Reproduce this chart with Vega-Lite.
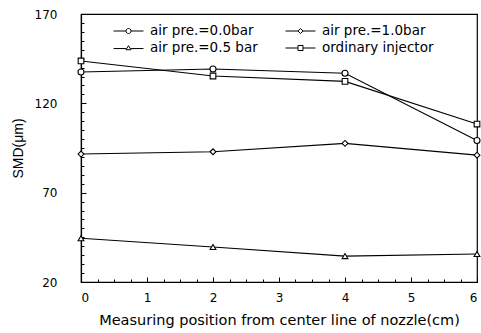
{
  "$schema": "https://vega.github.io/schema/vega-lite/v6.json",
  "width": 396,
  "height": 268,
  "autosize": "none",
  "padding": {"left": 81, "top": 14, "right": 4, "bottom": 51},
  "background": "white",
  "config": {
    "view": {"stroke": "black", "strokeWidth": 1.2},
    "font": "DejaVu Sans",
    "axis": {"labelFont": "DejaVu Sans", "titleFont": "DejaVu Sans", "labelColor": "black", "titleColor": "black", "domainColor": "black", "tickColor": "black", "grid": false}
  },
  "data": {
    "values": [
      {"x": 0, "series": "air pre.=0.0bar", "smd": 137.5},
      {"x": 2, "series": "air pre.=0.0bar", "smd": 139.2},
      {"x": 4, "series": "air pre.=0.0bar", "smd": 136.8},
      {"x": 6, "series": "air pre.=0.0bar", "smd": 99.2},
      {"x": 0, "series": "air pre.=1.0bar", "smd": 91.6},
      {"x": 2, "series": "air pre.=1.0bar", "smd": 92.9},
      {"x": 4, "series": "air pre.=1.0bar", "smd": 97.6},
      {"x": 6, "series": "air pre.=1.0bar", "smd": 91.0},
      {"x": 0, "series": "air pre.=0.5 bar", "smd": 44.5},
      {"x": 2, "series": "air pre.=0.5 bar", "smd": 39.6},
      {"x": 4, "series": "air pre.=0.5 bar", "smd": 34.5},
      {"x": 6, "series": "air pre.=0.5 bar", "smd": 35.7},
      {"x": 0, "series": "ordinary injector", "smd": 143.7},
      {"x": 2, "series": "ordinary injector", "smd": 135.3},
      {"x": 4, "series": "ordinary injector", "smd": 132.3},
      {"x": 6, "series": "ordinary injector", "smd": 108.4}
    ]
  },
  "layer": [
    {
      "mark": {"type": "line", "color": "black", "strokeWidth": 1.1},
      "encoding": {
        "x": {"field": "x", "type": "quantitative", "scale": {"domain": [0, 6], "nice": false},
          "axis": {"orient": "bottom", "title": "Measuring position from center line of nozzle(cm)", "values": [0,1,2,3,4,5,6], "format": "d", "tickSize": -5, "labelPadding": 15, "labelFontSize": 12, "titleFontSize": 14.5, "titleFontWeight": "normal", "titlePadding": 10, "domainWidth": 1.2}},
        "y": {"field": "smd", "type": "quantitative", "scale": {"domain": [20, 170], "nice": false, "zero": false},
          "axis": {"orient": "left", "title": "SMD(μm)", "titleFont": "Liberation Sans", "values": [20, 70, 120, 170], "tickSize": -5, "labelPadding": 29, "labelFontSize": 12, "titleFontSize": 14, "titleFontWeight": "normal", "titlePadding": 9, "domainWidth": 1.2}},
        "detail": {"field": "series", "type": "nominal"}
      }
    },
    {
      "mark": {"type": "point", "filled": false, "color": "black", "fill": "white", "fillOpacity": 1, "strokeWidth": 1.1, "opacity": 1},
      "encoding": {
        "x": {"field": "x", "type": "quantitative",
          "axis": {"orient": "bottom", "title": null, "labels": false, "domain": false, "values": [0.25,0.5,0.75,1.25,1.5,1.75,2.25,2.5,2.75,3.25,3.5,3.75,4.25,4.5,4.75,5.25,5.5,5.75], "tickSize": -3}},
        "y": {"field": "smd", "type": "quantitative",
          "axis": {"orient": "left", "title": null, "labels": false, "domain": false, "values": [25,30,35,40,45,50,55,60,65,75,80,85,90,95,100,105,110,115,125,130,135,140,145,150,155,160,165], "tickSize": -3}},
        "shape": {"field": "series", "type": "nominal",
          "scale": {"domain": ["air pre.=0.0bar", "air pre.=1.0bar", "air pre.=0.5 bar", "ordinary injector"], "range": ["circle", "diamond", "triangle-up", "square"]},
          "legend": null},
        "size": {"field": "series", "type": "nominal",
          "scale": {"domain": ["air pre.=0.0bar", "air pre.=1.0bar", "air pre.=0.5 bar", "ordinary injector"], "range": [36, 32, 36, 50]},
          "legend": null}
      }
    },
    {
      "mark": {"type": "point", "filled": false, "color": "black", "opacity": 0},
      "encoding": {
        "x": {"field": "x", "type": "quantitative", "axis": null},
        "y": {"field": "smd", "type": "quantitative", "axis": null},
        "shape": {"field": "series", "type": "nominal",
          "scale": {"domain": ["air pre.=0.0bar", "air pre.=1.0bar", "air pre.=0.5 bar", "ordinary injector"],
            "range": [
              "M-2.14,0L-0.36,0M0.36,0L2.14,0M-0.36,0A0.36,0.36 0 1,0 0.36,0A0.36,0.36 0 1,0 -0.36,0Z",
              "M-2.14,0L-0.36,0M0.36,0L2.14,0M-0.36,0L0,-0.36L0.36,0L0,0.36Z",
              "M-2.14,0.08L-0.36,0.08M0.36,0.08L2.14,0.08M-0.36,0.25L0,-0.33L0.36,0.25Z",
              "M-2.14,0L-0.36,0M0.36,0L2.14,0M-0.36,-0.36L0.36,-0.36L0.36,0.36L-0.36,0.36Z"
            ]},
          "legend": {
            "title": null, "orient": "none", "legendX": 40, "legendY": 9.5, "columns": 2, "direction": "horizontal",
            "columnPadding": 25, "rowPadding": 3, "padding": 0,
            "labelFontSize": 13.5, "labelFont": "DejaVu Sans", "labelColor": "black", "labelOffset": 14,
            "symbolSize": 196, "symbolStrokeColor": "black", "symbolFillColor": "white", "symbolStrokeWidth": 1, "symbolOpacity": 1
          }}
      }
    }
  ],
  "resolve": {"axis": {"x": "independent", "y": "independent"}, "scale": {"shape": "independent", "size": "independent"}}
}
